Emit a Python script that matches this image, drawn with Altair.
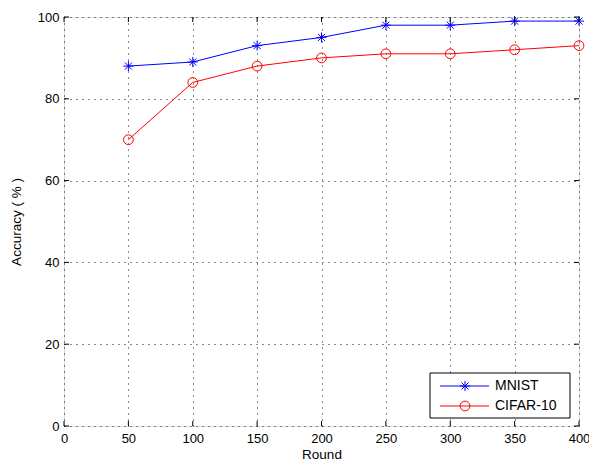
import altair as alt
import pandas as pd

rounds = [50, 100, 150, 200, 250, 300, 350, 400]
mnist = [88, 89, 93, 95, 98, 98, 99, 99]
cifar = [70, 84, 88, 90, 91, 91, 92, 93]
series_names = ["MNIST", "CIFAR-10"]
series_colors = ["#0000ff", "#ff0000"]
x_ticks = [0, 50, 100, 150, 200, 250, 300, 350, 400]
y_ticks = [0, 20, 40, 60, 80, 100]

W, H = 515, 409
FONT = "Liberation Sans"
ASTER = "M-1,0L1,0M0,-1L0,1M-0.7,-0.7L0.7,0.7M-0.7,0.7L0.7,-0.7"

df = pd.DataFrame({
    "Round": rounds * 2,
    "Accuracy": mnist + cifar,
    "Series": [series_names[0]] * len(rounds) + [series_names[1]] * len(rounds),
})
dm = df[df.Series == "MNIST"]
dc = df[df.Series == "CIFAR-10"]

xs = alt.Scale(domain=[0, 400], nice=False, zero=False)
ys = alt.Scale(domain=[0, 100], nice=False)

xaxis = alt.Axis(values=x_ticks, title="Round", grid=True, gridDash=[1, 5], gridColor="black",
                 gridOpacity=0.9, ticks=False, domain=False, labelFont=FONT, labelFontSize=13,
                 labelColor="black", titleFont=FONT, titleFontSize=13.5, titleFontWeight="normal",
                 titleColor="black", labelPadding=6, titlePadding=2, labelFlush=False)
yaxis = alt.Axis(values=y_ticks, title="Accuracy ( % )", grid=True, gridDash=[1, 5], gridColor="black",
                 gridOpacity=0.9, ticks=False, domain=False, labelFont=FONT, labelFontSize=13,
                 labelColor="black", titleFont=FONT, titleFontSize=13.5, titleFontWeight="normal",
                 titleColor="black", labelPadding=5, titlePadding=14, labelFlush=False)

grid_layer = alt.Chart(pd.DataFrame({"Round": [0], "Accuracy": [0]})).mark_point(opacity=0).encode(
    x=alt.X("Round:Q", scale=xs, axis=xaxis),
    y=alt.Y("Accuracy:Q", scale=ys, axis=yaxis),
)

line_m = alt.Chart(dm).mark_line(color=series_colors[0], strokeWidth=1).encode(
    x=alt.X("Round:Q", scale=xs), y=alt.Y("Accuracy:Q", scale=ys))
pts_m = alt.Chart(dm).mark_point(shape=ASTER, color=series_colors[0], size=100, filled=False,
                                 strokeWidth=1, opacity=1).encode(
    x=alt.X("Round:Q", scale=xs), y=alt.Y("Accuracy:Q", scale=ys))
line_c = alt.Chart(dc).mark_line(color=series_colors[1], strokeWidth=1).encode(
    x=alt.X("Round:Q", scale=xs), y=alt.Y("Accuracy:Q", scale=ys))
pts_c = alt.Chart(dc).mark_point(shape="circle", color=series_colors[1], size=95, filled=False,
                                 strokeWidth=1, opacity=1).encode(
    x=alt.X("Round:Q", scale=xs), y=alt.Y("Accuracy:Q", scale=ys))

# inward ticks (MATLAB style)
xt = pd.DataFrame({"Round": x_ticks})
yt = pd.DataFrame({"Accuracy": y_ticks})
tick_b = alt.Chart(xt).mark_rule(color="black", strokeWidth=1).encode(
    x=alt.X("Round:Q", scale=xs), y=alt.value(H), y2=alt.value(H - 5))
tick_t = alt.Chart(xt).mark_rule(color="black", strokeWidth=1).encode(
    x=alt.X("Round:Q", scale=xs), y=alt.value(0), y2=alt.value(5))
tick_l = alt.Chart(yt).mark_rule(color="black", strokeWidth=1).encode(
    y=alt.Y("Accuracy:Q", scale=ys), x=alt.value(0), x2=alt.value(5))
tick_r = alt.Chart(yt).mark_rule(color="black", strokeWidth=1).encode(
    y=alt.Y("Accuracy:Q", scale=ys), x=alt.value(W), x2=alt.value(W - 5))

# manual legend
one = pd.DataFrame({"a": [0]})
LX = W - 149
leg_box = alt.Chart(one).mark_rect(fill="white", stroke="black", strokeWidth=1).encode(
    x=alt.value(LX), x2=alt.value(LX + 140), y=alt.value(356), y2=alt.value(401))
leg_layers = [leg_box]
rows_y = [369, 389]
for name, col, ry, shp, sz in zip(series_names, series_colors, rows_y, [ASTER, "circle"], [100, 95]):
    leg_layers.append(alt.Chart(one).mark_rule(color=col, strokeWidth=1).encode(
        x=alt.value(LX + 10), x2=alt.value(LX + 59), y=alt.value(ry)))
    leg_layers.append(alt.Chart(one).mark_point(shape=shp, color=col, size=sz, filled=False,
                                                strokeWidth=1, opacity=1).encode(
        x=alt.value(LX + 35), y=alt.value(ry)))
    leg_layers.append(alt.Chart(pd.DataFrame({"t": [name]})).mark_text(
        align="left", baseline="middle", font=FONT, fontSize=14, color="black").encode(
        x=alt.value(LX + 65), y=alt.value(ry), text="t:N"))

chart = alt.layer(grid_layer, line_m, line_c, pts_m, pts_c, tick_b, tick_t, tick_l, tick_r,
                  *leg_layers).properties(
    width=W, height=H,
    autosize=alt.AutoSizeParams(type="none"),
    padding={"left": 56, "top": 9, "right": 10, "bottom": 34},
).configure_view(stroke="black", strokeWidth=1).configure(background="white")

chart.save("out.html", embed_options={"renderer": "svg", "actions": False})
